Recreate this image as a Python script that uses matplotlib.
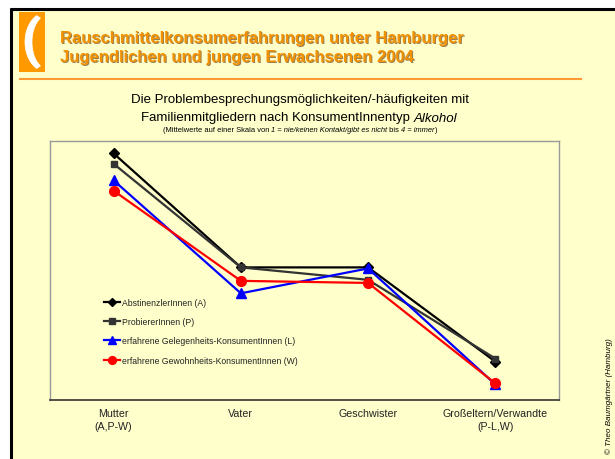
import matplotlib
matplotlib.use("Agg")
import numpy as np
import matplotlib.pyplot as plt
from matplotlib.patches import Rectangle, Polygon

plt.rcParams['font.family'] = ['Liberation Sans', 'DejaVu Sans']

categories = ["Mutter\n(A,P-W)", "Vater", "Geschwister", "Großeltern/Verwandte\n(P-L,W)"]
series_names = ["AbstinenzlerInnen (A)", "ProbiererInnen (P)",
                "erfahrene Gelegenheits-KonsumentInnen (L)",
                "erfahrene Gewohnheits-KonsumentInnen (W)"]
abstinent = [3.38, 2.28, 2.28, 1.37]
probierer = [3.28, 2.28, 2.16, 1.40]
gelegenheit = [3.12, 2.03, 2.27, 1.15]
gewohnheit = [3.02, 2.15, 2.13, 1.16]

W, H = 615, 460
fig = plt.figure(figsize=(W / 100, H / 100), dpi=100, facecolor="white")
renderer = fig.canvas.get_renderer()

# background overlay in pixel coordinates
bg = fig.add_axes([0, 0, 1, 1], zorder=0)
bg.set_xlim(0, W)
bg.set_ylim(H, 0)
bg.axis("off")
bg.add_patch(Rectangle((12, 10), W - 12, H - 10, facecolor="#FFFFCC", edgecolor="none"))
bg.plot([10, W], [10, 10], color="black", lw=2.2, solid_capstyle="butt")
bg.plot([11, 11], [9, H], color="black", lw=2.2, solid_capstyle="butt")
bg.add_patch(Rectangle((19, 13), 26, 60, facecolor="#FF9900", edgecolor="none"))
# white crescent
th = np.linspace(np.deg2rad(118), np.deg2rad(242), 60)
outer = np.column_stack([47 + 22 * np.cos(th), 43 + 30 * np.sin(th)])
inner = np.column_stack([48 + 16 * np.cos(th[::-1]), 43 + 27 * np.sin(th[::-1])])
bg.add_patch(Polygon(np.vstack([outer, inner]), closed=True, facecolor="white",
                     edgecolor="white", lw=0.5))
bg.plot([20, 581], [80, 80], color="#FF9933", lw=1.5)

title_lines = ["Rauschmittelkonsumerfahrungen unter Hamburger",
               "Jugendlichen und jungen Erwachsenen 2004"]
for i, t in enumerate(title_lines):
    y = 38 + 19.5 * i
    bg.text(61, y + 1.3, t, fontsize=12, fontweight="bold", color="#7A5528",
            va="center", ha="left", alpha=0.75)
    bg.text(60, y, t, fontsize=12, fontweight="bold", color="#F39200",
            va="center", ha="left")


def rich_line(pieces, cx, y, size):
    texts = []
    for s, st in pieces:
        texts.append(bg.text(0, y, s, fontsize=size, style=st, ha="left",
                             va="center", color="black"))
    inv = bg.transData.inverted()
    widths = []
    for t in texts:
        bb = t.get_window_extent(renderer)
        x0 = inv.transform((bb.x0, bb.y0))[0]
        x1 = inv.transform((bb.x1, bb.y0))[0]
        widths.append(x1 - x0)
    total = sum(widths)
    x = cx - total / 2
    for t, w in zip(texts, widths):
        t.set_x(x)
        x += w


rich_line([("Die Problembesprechungsmöglichkeiten/-häufigkeiten mit", "normal")],
          300, 100, 9.5)
rich_line([("Familienmitgliedern nach KonsumentInnentyp ", "normal"),
           ("Alkohol", "italic")], 299, 118.5, 9.5)
rich_line([("(Mittelwerte auf einer Skala von ", "normal"),
           ("1 = nie/keinen Kontakt/gibt es nicht", "italic"),
           (" bis ", "normal"), ("4 = immer", "italic"), (")", "normal")],
          300, 131, 5.4)

bg.text(609, 396, "© Theo Baumgärtner (Hamburg)", fontsize=5.8, style="italic",
        rotation=90, ha="center", va="center", color="black")

# main chart
ax = fig.add_axes([50 / W, (H - 401) / H, 509 / W, 259 / H], zorder=1)
ax.set_facecolor("none")
x = list(range(len(categories)))
styles = [
    (abstinent, "black", "D", 4.8),
    (probierer, "#333333", "s", 5.0),
    (gelegenheit, "#0000FF", "^", 7.0),
    (gewohnheit, "#FF0000", "o", 7.0),
]
for (vals, col, mk, ms), name in zip(styles, series_names):
    ax.plot(x, vals, color=col, marker=mk, markersize=ms, lw=1.6, label=name)

ax.set_xlim(-0.5, 3.5)
ax.set_ylim(1.0, 3.5)
ax.set_yticks([])
ax.set_xticks(x)
ax.set_xticklabels(categories, fontsize=7.7, color="#222222")
for lab in ax.get_xticklabels():
    lab.set_linespacing(1.3)
ax.tick_params(axis="x", length=0, pad=6)
for s in ["left", "top", "right"]:
    ax.spines[s].set_color("#999999")
    ax.spines[s].set_linewidth(1.0)
ax.spines["bottom"].set_color("#333333")
ax.spines["bottom"].set_linewidth(1.2)

leg = ax.legend(loc="center left", bbox_to_anchor=(0.1, 0.265), frameon=False,
                fontsize=6.2, handlelength=1.8, handletextpad=0.2,
                labelspacing=1.18, markerscale=0.8, borderaxespad=0)
for t in leg.get_texts():
    t.set_color("#222222")

fig.savefig("out.png", dpi=100, facecolor="white")
